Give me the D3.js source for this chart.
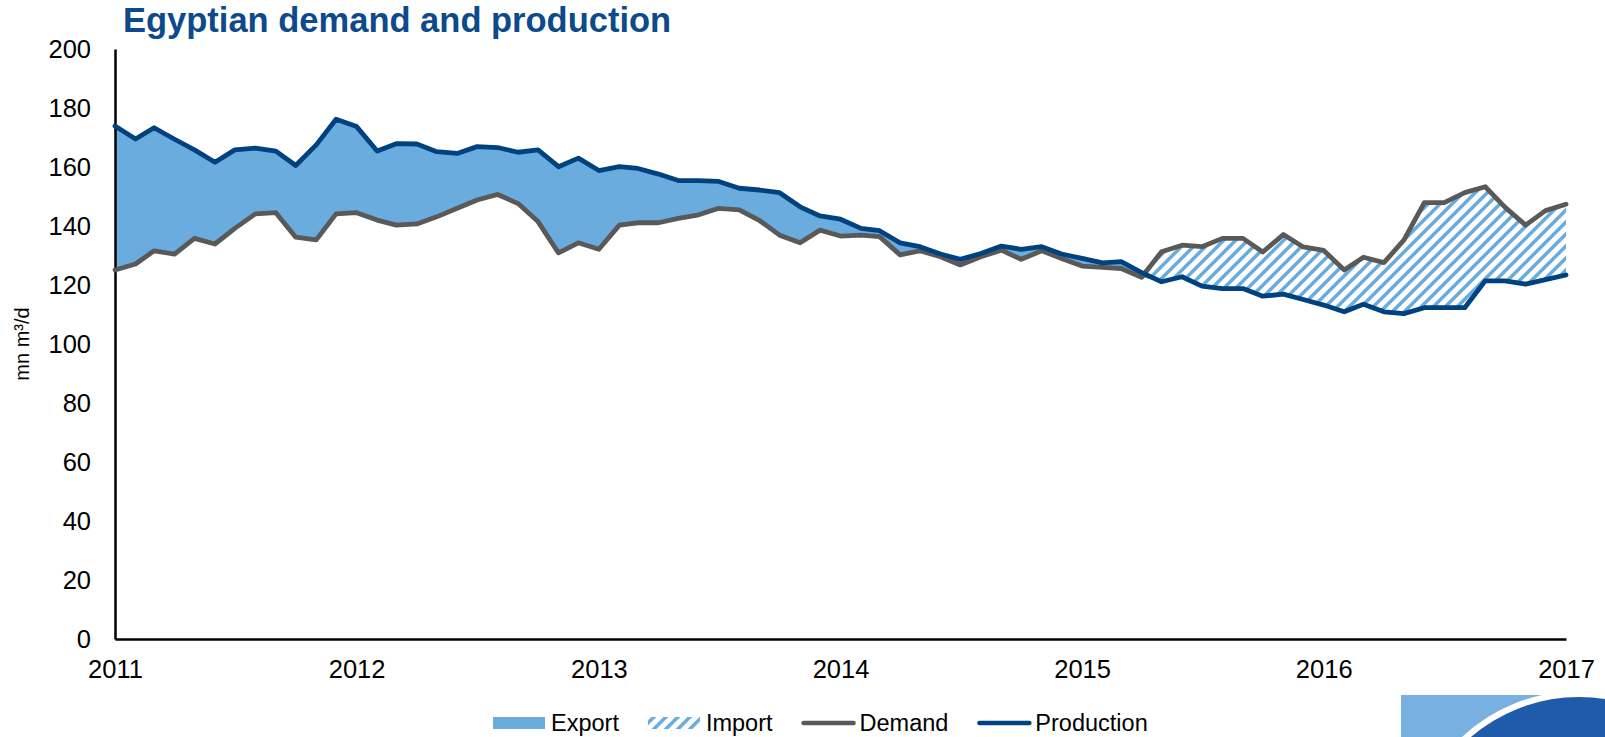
<!DOCTYPE html>
<html>
<head>
<meta charset="utf-8">
<script src="https://cdn.jsdelivr.net/npm/d3@7"></script>
<style>
  body { margin: 0; background: #fff; }
  text { font-family: "Liberation Sans", Arial, sans-serif; }
</style>
</head>
<body>
<div id="chart"></div>
<script>
// Monthly values, Jan 2011 .. Jan 2017 (mn m3/d)
const months = d3.timeMonth.range(new Date(2011, 0, 1), new Date(2017, 0, 2));

const production = [
  173.9, 169.5, 173.3, 169.4, 165.8, 161.6, 165.8, 166.4, 165.4, 160.5, 167.5, 176.2,
  173.7, 165.4, 167.9, 167.8, 165.2, 164.6, 166.9, 166.6, 165.0, 165.8, 160.1, 163.0,
  158.8, 160.1, 159.5, 157.6, 155.4, 155.4, 155.1, 152.8, 152.2, 151.3, 146.5, 143.4,
  142.3, 139.2, 138.4, 134.3, 133.0, 130.5, 128.7, 130.7, 133.2, 132.1, 133.0, 130.5,
  129.0, 127.5, 127.9, 124.2, 121.1, 122.8, 119.6, 118.8, 118.8, 116.2, 116.9, 115.1,
  113.2, 110.9, 113.5, 110.9, 110.3, 112.3, 112.3, 112.3, 121.4, 121.4, 120.3, 121.8,
  123.4
];

const demand = [
  125.1, 127.1, 131.6, 130.5, 135.8, 133.9, 139.2, 144.1, 144.5, 136.2, 135.3, 144.1,
  144.5, 142.0, 140.3, 140.7, 143.1, 146.0, 148.8, 150.7, 147.6, 141.5, 130.9, 134.3,
  132.1, 140.3, 141.1, 141.1, 142.6, 143.8, 146.0, 145.5, 141.8, 136.9, 134.3, 138.6,
  136.6, 136.9, 136.4, 130.2, 131.6, 129.6, 126.8, 129.6, 131.8, 128.7, 131.6, 129.0,
  126.4, 126.0, 125.6, 122.6, 131.3, 133.5, 133.0, 135.8, 135.8, 131.2, 137.1, 132.9,
  131.7, 125.1, 129.4, 127.6, 135.2, 147.9, 147.9, 151.3, 153.3, 146.3, 140.3, 145.2,
  147.4
];

const yearTicks = [2011, 2012, 2013, 2014, 2015, 2016, 2017];
const yTicks = [0, 20, 40, 60, 80, 100, 120, 140, 160, 180, 200];
const legendItems = ['Export', 'Import', 'Demand', 'Production'];

const W = 1605, H = 737;
const margin = { top: 49, right: 39, bottom: 98, left: 115 };

const colors = {
  export: '#6aacde',
  demand: '#595959',
  production: '#00427f',
  title: '#0d4a8c'
};

// stacked like the spreadsheet: base = min, export on top, import above that
const rows = months.map((m, i) => {
  const d = demand[i], p = production[i];
  const base = Math.min(d, p);
  const exp = Math.max(0, p - d);
  const imp = Math.max(0, d - p);
  return { date: m, demand: d, production: p, base, expTop: base + exp, impTop: base + exp + imp };
});

const svg = d3.select('#chart').append('svg')
  .attr('width', W)
  .attr('height', H);

const x = d3.scaleTime()
  .domain([new Date(2011, 0, 1), new Date(2017, 0, 1)])
  .range([margin.left, W - margin.right]);

const y = d3.scaleLinear()
  .domain([0, 200])
  .range([H - margin.bottom, margin.top]);

// hatch pattern for imports
const pat = svg.append('defs').append('pattern')
  .attr('id', 'hatch')
  .attr('patternUnits', 'userSpaceOnUse')
  .attr('width', 12)
  .attr('height', 12);
pat.append('path')
  .attr('d', 'M-3,3 L3,-3 M0,12 L12,0 M9,15 L15,9')
  .attr('stroke', colors.export)
  .attr('stroke-width', 3.6);

// Areas
svg.append('path')
  .datum(rows)
  .attr('fill', colors.export)
  .attr('d', d3.area()
    .x(d => x(d.date))
    .y0(d => y(d.base))
    .y1(d => y(d.expTop)));

svg.append('path')
  .datum(rows)
  .attr('fill', 'url(#hatch)')
  .attr('d', d3.area()
    .x(d => x(d.date))
    .y0(d => y(d.expTop))
    .y1(d => y(d.impTop)));

// Axes
const yAxis = svg.append('g')
  .attr('transform', `translate(${margin.left},0)`)
  .call(d3.axisLeft(y).tickValues(yTicks).tickSize(0).tickPadding(24));
yAxis.select('.domain').attr('stroke', '#000').attr('stroke-width', 2.5);
yAxis.selectAll('text').attr('font-size', 25.5).attr('fill', '#000')
  .style('font-family', '"Liberation Sans", Arial, sans-serif');

const xAxis = svg.append('g')
  .attr('transform', `translate(0,${H - margin.bottom})`)
  .call(d3.axisBottom(x)
    .tickValues(yearTicks.map(yr => new Date(yr, 0, 1)))
    .tickFormat(d3.timeFormat('%Y'))
    .tickSize(0).tickPadding(21));
xAxis.select('.domain').attr('stroke', '#000').attr('stroke-width', 2.5);
xAxis.selectAll('text').attr('font-size', 25.5).attr('fill', '#000')
  .style('font-family', '"Liberation Sans", Arial, sans-serif');

// Lines
const line = key => d3.line().x(d => x(d.date)).y(d => y(d[key]));

svg.append('path')
  .datum(rows)
  .attr('fill', 'none')
  .attr('stroke', colors.demand)
  .attr('stroke-width', 4.8)
  .attr('stroke-linejoin', 'round')
  .attr('stroke-linecap', 'round')
  .attr('d', line('demand'));

svg.append('path')
  .datum(rows)
  .attr('fill', 'none')
  .attr('stroke', colors.production)
  .attr('stroke-width', 4.8)
  .attr('stroke-linejoin', 'round')
  .attr('stroke-linecap', 'round')
  .attr('d', line('production'));

// Title + axis label
svg.append('text')
  .attr('x', 123)
  .attr('y', 32)
  .attr('font-size', 34.5)
  .attr('font-weight', 'bold')
  .attr('fill', colors.title)
  .text('Egyptian demand and production');

svg.append('text')
  .attr('transform', `translate(29,${y(100)}) rotate(-90)`)
  .attr('text-anchor', 'middle')
  .attr('font-size', 20)
  .attr('fill', '#000')
  .text('mn m³/d');

// Legend
const legend = svg.append('g').attr('transform', 'translate(493,723)');
let lx = 0;
legendItems.forEach((name, i) => {
  const g = legend.append('g').attr('transform', `translate(${lx},0)`);
  if (i === 0) {
    g.append('rect').attr('x', 0).attr('y', -6).attr('width', 52).attr('height', 12).attr('fill', colors.export);
  } else if (i === 1) {
    g.append('rect').attr('x', 0).attr('y', -6).attr('width', 52).attr('height', 12).attr('fill', 'url(#hatch)');
  } else {
    g.append('line')
      .attr('x1', 2).attr('x2', 52)
      .attr('stroke', i === 2 ? colors.demand : colors.production)
      .attr('stroke-width', 4.5)
      .attr('stroke-linecap', 'round');
  }
  const t = g.append('text')
    .attr('x', 58)
    .attr('dy', '0.35em')
    .attr('font-size', 23.5)
    .attr('fill', '#000')
    .text(name);
  lx += 58 + t.node().getComputedTextLength() + 29;
});

// Corner logo band
const logo = svg.append('g');
logo.append('clipPath').attr('id', 'logoClip')
  .append('rect').attr('x', 1401).attr('y', 695).attr('width', 204).attr('height', 42);
logo.append('rect')
  .attr('x', 1401).attr('y', 695).attr('width', 204).attr('height', 42)
  .attr('fill', '#78b1e1');
logo.append('circle')
  .attr('clip-path', 'url(#logoClip)')
  .attr('cx', 1579).attr('cy', 863).attr('r', 169)
  .attr('fill', '#1f5baa')
  .attr('stroke', '#fff')
  .attr('stroke-width', 6);
</script>
</body>
</html>
